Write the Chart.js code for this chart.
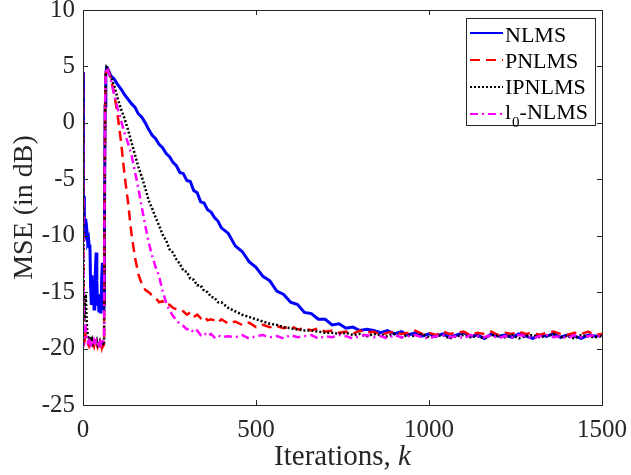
<!DOCTYPE html>
<html>
<head>
<meta charset="utf-8">
<script src="https://cdn.jsdelivr.net/npm/chart.js@4/dist/chart.umd.min.js"></script>
<style>
  html, body { margin: 0; padding: 0; background: #fff; }
  #wrap { width: 631px; height: 475px; }
</style>
</head>
<body>
<div id="wrap"><canvas id="mseChart" width="631" height="475"></canvas></div>
<script>
// iteration grid: dense before the system change, then coarser
const itersA = [0, 1, 2, 3, 4, 6, 8, 10, 12, 14, 16, 18, 20, 22, 24, 26, 28, 30, 32, 34, 36, 38, 40, 42,
  44, 46, 48, 50, 52, 54, 56, 58, 60, 61, 62, 64, 66, 68];
const itersB = [70, 80, 90, 100, 110, 120, 130, 140, 150, 160, 170, 180, 190, 200, 210, 220, 230,
  240, 250, 260, 270, 280, 290, 300, 310, 320, 330, 340, 350, 360, 370, 380, 390, 400];
const itersC = [420, 440, 460, 480, 500, 520, 540, 560, 580, 600, 620, 640, 660, 680, 700,
  720, 740, 760, 780, 800, 820, 840, 860, 880, 900, 920, 940, 960, 980, 1000,
  1020, 1040, 1060, 1080, 1100, 1120, 1140, 1160, 1180, 1200, 1220, 1240, 1260, 1280, 1300,
  1320, 1340, 1360, 1380, 1400, 1420, 1440, 1460, 1480, 1500];

// MSE in dB
const nlmsA = [4.5, -4, -7, -6.5, -9, -8.5, -10, -10.2, -9.8, -10.5, -10.3, -11, -10.8, -14.5,
  -16, -13.5, -15.8, -14.2, -16.5, -15, -13, -11.5, -14, -16.2,
  -15.5, -16.8, -15.2, -16.5, -16.9, -13.8, -12.4, -15.5, -16.6, -16, -9, 1.5, 4.2, 4.9];
const nlmsB = [4.9, 4.2, 3.9, 3.4, 3.0, 2.5, 2.1, 1.7, 1.4, 0.8, 0.5, 0.0, -0.6, -1.1, -1.4, -1.9, -2.2,
  -2.7, -3.0, -3.5, -3.8, -4.4, -4.5, -5.1, -5.2, -6.0, -6.2, -7.0, -7.1, -7.7, -7.9, -8.4, -8.7, -9.3];
const nlmsC = [-9.8, -10.9, -11.4, -12.3, -12.8, -13.6, -14.0, -14.9, -15.2, -15.9, -16.1, -16.8, -16.9, -17.4, -17.4,
  -17.9, -17.8, -18.2, -18.1, -18.4, -18.3, -18.4, -18.6, -18.4, -18.7, -18.5, -18.8, -18.6, -18.9, -18.7,
  -18.9, -18.7, -19.0, -18.8, -18.6, -18.9, -18.8, -19.1, -18.7, -18.9, -18.8, -19.0, -18.7, -18.9, -19.1,
  -18.8, -18.9, -18.7, -19.0, -18.8, -18.9, -19.1, -18.8, -18.9, -18.8];

const pnlmsA = [4.5, -12, -19.2, -19.6, -19.4, -19.1, -18.9, -19.3, -19.5, -19.6, -19.4, -19.7, -19.5, -19.6,
  -19.4, -19.7, -19.5, -19.6, -19.8, -19.5, -19.7, -19.6, -19.5, -19.8,
  -19.6, -19.7, -19.5, -19.8, -19.6, -19.9, -19.6, -19.8, -19.7, -19.5, -10, 1.8, 4.4, 4.95];
const pnlmsB = [4.9, 4.0, 2.6, 0.7, -1.7, -4.6, -7.0, -9.8, -11.9, -13.4, -14.3, -14.8, -15.0, -15.3, -15.5, -15.9, -15.8,
  -16.2, -16.1, -16.4, -16.5, -16.6, -16.7, -17.0, -16.8, -17.2, -17.0, -17.3, -17.1, -17.5, -17.4, -17.5, -17.7, -17.4];
const pnlmsC = [-17.8, -17.6, -17.9, -17.7, -18.1, -17.9, -18.1, -18.0, -18.2, -18.0, -18.3, -18.2, -18.4, -18.2, -18.5,
  -18.4, -18.6, -18.5, -18.7, -18.4, -18.6, -18.5, -18.8, -18.6, -18.5, -18.7, -18.6, -18.4, -18.7, -18.6,
  -18.8, -18.5, -18.7, -18.6, -18.5, -18.8, -18.6, -18.7, -18.5, -18.8, -18.6, -18.7, -18.5, -18.7, -18.6,
  -18.8, -18.6, -18.5, -18.7, -18.8, -18.6, -18.7, -18.5, -18.8, -18.7];

const ipnlmsA = [4.5, -9, -14, -16.5, -17.5, -16, -15.2, -17, -18.4, -18.8, -19.1, -19, -19.3, -19.2,
  -19.4, -19.2, -19.5, -19.3, -19.4, -19.6, -19.4, -19.5, -19.3, -19.6,
  -19.4, -19.5, -19.7, -19.4, -19.6, -19.5, -19.7, -19.5, -19.6, -19.4, -9.5, 1.6, 4.3, 4.9];
const ipnlmsB = [4.8, 4.1, 3.3, 2.2, 1.2, 0.4, -0.6, -1.7, -2.8, -3.9, -4.8, -5.8, -6.9, -7.6, -8.4, -9.1, -9.9,
  -10.4, -11.2, -11.5, -12.1, -12.5, -13.1, -13.2, -13.8, -13.9, -14.4, -14.4, -14.9, -15.0, -15.4, -15.5, -15.9, -15.9];
const ipnlmsC = [-16.4, -16.7, -17.0, -17.2, -17.4, -17.6, -17.8, -17.9, -18.1, -18.2, -18.3, -18.4, -18.4, -18.5, -18.6,
  -18.6, -18.7, -18.6, -18.8, -18.7, -18.9, -18.7, -18.8, -18.9, -18.7, -19.0, -18.8, -18.9, -18.7, -19.0,
  -18.9, -18.8, -19.1, -18.9, -18.8, -19.0, -18.9, -19.1, -18.8, -18.9, -19.0, -18.8, -19.1, -18.9, -18.8,
  -19.0, -18.9, -18.7, -19.0, -18.9, -19.1, -18.8, -18.9, -19.0, -18.9];

const l0A = [4.5, -8, -19.8, -19.6, -18.9, -18.4, -18.2, -18.6, -19.1, -19.4, -19.3, -19.5, -19.4, -19.6,
  -19.3, -19.5, -19.4, -19.6, -19.3, -19.5, -19.4, -19.3, -19.5, -19.4,
  -19.6, -19.3, -19.5, -19.4, -19.6, -19.3, -19.5, -19.4, -19.2, -19.0, -8.5, 2.0, 4.4, 4.9];
const l0B = [4.8, 3.9, 2.5, 1.3, 0.2, -0.9, -1.8, -2.8, -4.3, -5.8, -7.5, -9.1, -10.6, -11.8, -12.8, -13.6, -14.9,
  -15.9, -16.6, -17.1, -17.5, -17.8, -18.0, -18.3, -18.2, -18.6, -18.4, -18.8, -18.6, -18.9, -18.7, -19.0, -18.8, -19.0];
const l0C = [-18.9, -19.0, -18.8, -19.1, -18.9, -18.8, -19.0, -18.9, -19.1, -18.8,
  -19.0, -18.9, -18.8, -19.1, -18.9, -19.0, -18.8, -18.9, -19.1, -18.9,
  -18.8, -19.0, -18.9, -19.1, -18.8, -19.0, -18.9, -18.8, -19.0, -19.1,
  -18.9, -18.8, -19.0, -18.9, -19.1, -18.8, -18.9, -19.0, -18.8, -19.1,
  -18.9, -19.0, -18.8, -18.9, -19.1, -18.9, -18.8, -19.0, -18.9, -19.1,
  -18.8, -19.0, -18.9, -18.8, -19.0];

const xTicks = [0, 500, 1000, 1500];
const yTicks = [-25, -20, -15, -10, -5, 0, 5, 10];

const SERIF = "'Liberation Serif', 'Times New Roman', Times, serif";
const AXIS = '#262626';

const iterations = itersA.concat(itersB, itersC);

function toPoints(a, b, c) {
  const vals = a.concat(b, c);
  if (vals.length !== iterations.length) throw new Error('length mismatch ' + vals.length + ' vs ' + iterations.length);
  return iterations.map((k, i) => ({ x: k, y: vals[i] }));
}

const SERIES = [
  { label: 'NLMS', data: toPoints(nlmsA, nlmsB, nlmsC), color: '#0000ff', dash: [], width: 3, order: 4 },
  { label: 'PNLMS', data: toPoints(pnlmsA, pnlmsB, pnlmsC), color: '#ff0000', dash: [10, 6], width: 2.5, order: 3 },
  { label: 'IPNLMS', data: toPoints(ipnlmsA, ipnlmsB, ipnlmsC), color: '#000000', dash: [2, 2], width: 2.5, order: 2 },
  { label: 'l0-NLMS', data: toPoints(l0A, l0B, l0C), color: '#ff00ff', dash: [8, 4, 2, 4], width: 2.5, order: 1 },
];

// box, inward ticks, axis titles and legend drawn MATLAB-style
const matlabFrame = {
  id: 'matlabFrame',
  afterDraw(chart) {
    const { ctx, chartArea: a, scales: { x, y } } = chart;
    ctx.save();
    ctx.strokeStyle = AXIS;
    ctx.lineWidth = 1;
    ctx.setLineDash([]);
    ctx.strokeRect(a.left + 0.5, a.top + 0.5, a.right - a.left, a.bottom - a.top);
    const tl = 5;
    ctx.beginPath();
    xTicks.forEach(v => {
      const px = Math.round(x.getPixelForValue(v)) + 0.5;
      ctx.moveTo(px, a.bottom); ctx.lineTo(px, a.bottom - tl);
      ctx.moveTo(px, a.top); ctx.lineTo(px, a.top + tl);
    });
    yTicks.forEach(v => {
      const py = Math.round(y.getPixelForValue(v)) + 0.5;
      ctx.moveTo(a.left, py); ctx.lineTo(a.left + tl, py);
      ctx.moveTo(a.right, py); ctx.lineTo(a.right - tl, py);
    });
    ctx.stroke();

    // x title: "Iterations, k" with italic k
    ctx.fillStyle = AXIS;
    ctx.textBaseline = 'alphabetic';
    ctx.textAlign = 'left';
    const plain = 'Iterations, ';
    ctx.font = '29px ' + SERIF;
    const w1 = ctx.measureText(plain).width;
    ctx.font = 'italic 29px ' + SERIF;
    const w2 = ctx.measureText('k').width;
    const x0 = (a.left + a.right) / 2 - (w1 + w2) / 2;
    ctx.font = '29px ' + SERIF;
    ctx.fillText(plain, x0, 465);
    ctx.font = 'italic 29px ' + SERIF;
    ctx.fillText('k', x0 + w1, 465);

    // y title
    ctx.save();
    ctx.translate(32, (a.top + a.bottom) / 2);
    ctx.rotate(-Math.PI / 2);
    ctx.textAlign = 'center';
    ctx.font = '28px ' + SERIF;
    ctx.fillText('MSE (in dB)', 0, 0);
    ctx.restore();

    // legend
    const lx = 466.5, ly = 18.5, lw = 129, lh = 107;
    ctx.fillStyle = '#ffffff';
    ctx.fillRect(lx, ly, lw, lh);
    ctx.strokeStyle = AXIS;
    ctx.lineWidth = 1;
    ctx.strokeRect(lx, ly, lw, lh);
    const lineY = [33, 60, 87, 114];
    const baseY = [42, 67.5, 93.5, 118.5];
    SERIES.forEach((s, i) => {
      ctx.beginPath();
      ctx.strokeStyle = s.color;
      ctx.lineWidth = 2;
      ctx.setLineDash(s.dash);
      ctx.moveTo(470, lineY[i]);
      ctx.lineTo(503, lineY[i]);
      ctx.stroke();
    });
    ctx.setLineDash([]);
    ctx.fillStyle = '#000000';
    ctx.textAlign = 'left';
    ctx.font = '22px ' + SERIF;
    ctx.fillText('NLMS', 505, baseY[0]);
    ctx.fillText('PNLMS', 505, baseY[1]);
    ctx.fillText('IPNLMS', 505, baseY[2]);
    ctx.fillText('l', 505, baseY[3]);
    const wl = ctx.measureText('l').width;
    ctx.font = '15px ' + SERIF;
    ctx.fillText('0', 505 + wl + 1, baseY[3] + 8);
    const w0 = ctx.measureText('0').width;
    ctx.font = '22px ' + SERIF;
    ctx.fillText('-NLMS', 505 + wl + 1 + w0, baseY[3]);
    ctx.restore();
  }
};

new Chart(document.getElementById('mseChart'), {
  type: 'line',
  data: {
    datasets: SERIES.map(s => ({
      label: s.label,
      data: s.data,
      borderColor: s.color,
      borderWidth: s.width,
      borderDash: s.dash,
      pointRadius: 0,
      tension: 0,
      fill: false,
      order: s.order,
    })),
  },
  options: {
    responsive: false,
    animation: false,
    devicePixelRatio: 1,
    layout: { padding: { left: 0, right: 29, top: 10, bottom: 0 } },
    plugins: { legend: { display: false }, tooltip: { enabled: false } },
    scales: {
      x: {
        type: 'linear',
        min: 0,
        max: 1500,
        afterBuildTicks: (scale) => { scale.ticks = xTicks.map(v => ({ value: v })); },
        afterFit: (scale) => { scale.height = 70; scale.paddingLeft = 0; scale.paddingRight = 0; },
        grid: { display: false, drawTicks: false },
        border: { display: false },
        ticks: { color: AXIS, font: { family: SERIF, size: 25 }, padding: 10, maxRotation: 0, callback: (v) => String(v) },
      },
      y: {
        type: 'linear',
        min: -25,
        max: 10,
        afterBuildTicks: (scale) => { scale.ticks = yTicks.map(v => ({ value: v })); },
        afterFit: (scale) => { scale.width = 83; scale.paddingTop = 0; scale.paddingBottom = 0; },
        grid: { display: false, drawTicks: false },
        border: { display: false },
        ticks: { color: AXIS, font: { family: SERIF, size: 25 }, padding: 8, callback: (v) => String(v) },
      },
    },
  },
  plugins: [matlabFrame],
});
</script>
</body>
</html>
